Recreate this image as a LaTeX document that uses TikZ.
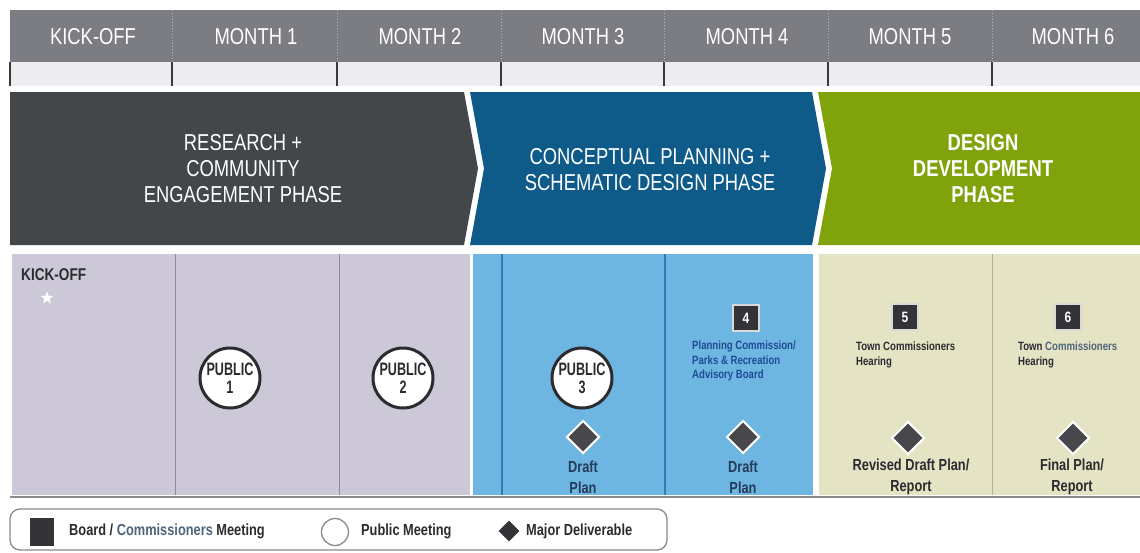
\documentclass[tikz,border=0pt]{standalone}
\usepackage{fontspec}
\setmainfont{Liberation Sans}
\newfontfamily\cond[FakeStretch=0.8]{Liberation Sans}
\newfontfamily\condn[FakeStretch=0.7]{Liberation Sans}
\usetikzlibrary{shapes.geometric}

\definecolor{barGray}{HTML}{7C7D82}
\definecolor{barLine}{HTML}{B4B4BA}
\definecolor{tickStrip}{HTML}{EDEDF1}
\definecolor{tickDark}{HTML}{3A3A3E}
\definecolor{phaseDark}{HTML}{434749}
\definecolor{phaseBlue}{HTML}{0E5A89}
\definecolor{phaseGreen}{HTML}{80A30B}
\definecolor{lavPanel}{HTML}{CCC8D8}
\definecolor{lavLine}{HTML}{8E8A9A}
\definecolor{skyPanel}{HTML}{6DB6E1}
\definecolor{skyLine}{HTML}{2A80B6}
\definecolor{beigePanel}{HTML}{E4E3C4}
\definecolor{beigeLine}{HTML}{B3B196}
\definecolor{inkDark}{HTML}{2B2B30}
\definecolor{inkNavy}{HTML}{263B5A}
\definecolor{inkBlue}{HTML}{1D4C94}
\definecolor{inkTeal}{HTML}{4E6478}
\definecolor{markDark}{HTML}{333338}
\definecolor{frameGray}{HTML}{8A8A8E}

\begin{document}
\begin{tikzpicture}[x=1pt,y=-1pt,
  month/.style={text=white,font=\cond\fontsize{23}{26}\selectfont},
  phasetext/.style={text=white,align=center,font=\cond\fontsize{23}{26}\selectfont},
  phasebold/.style={phasetext,font=\cond\bfseries\fontsize{23}{26}\selectfont},
  pubcircle/.style={circle,draw=inkDark,line width=3pt,fill=white,minimum size=60,
    inner sep=0,align=center,text=inkDark,font=\condn\bfseries\fontsize{18}{18}\selectfont},
  boardbox/.style={rectangle,fill=markDark,draw=white!85!black,line width=1.5pt,
    minimum size=26,inner sep=0,text=white,font=\cond\bfseries\fontsize{15}{16}\selectfont},
  deliv/.style={diamond,fill=markDark!90!white,draw=white,line width=2pt,
    minimum size=33,inner sep=0},
  smalllabel/.style={anchor=north west,align=left,inner sep=0,
    font=\cond\bfseries\fontsize{12}{14.5}\selectfont},
  delivlabel/.style={align=center,inner sep=0,font=\cond\bfseries\fontsize{16}{21}\selectfont},
  legtext/.style={anchor=west,inner sep=0,text=inkDark,font=\cond\bfseries\fontsize{16}{18}\selectfont}
]
\useasboundingbox (0,0) rectangle (1140,552);
\fill[white] (0,0) rectangle (1140,552);

% ---- month header ----
\fill[barGray] (10,10) rectangle (1140,62);
\foreach \x in {172,337,501,664,828,992}
  \draw[barLine,dotted,line width=1pt] (\x,10) -- (\x,62);
\fill[tickStrip] (10,62) rectangle (1140,86);
\foreach \x in {10,172,337,501,664,828,992}
  \draw[tickDark,line width=1.2pt] (\x,62) -- (\x,86);

\node[month] (m0) at (93,37) {KICK-OFF};
\node[month] (m1) at (256,37) {MONTH 1};
\node[month] (m2) at (420,37) {MONTH 2};
\node[month] (m3) at (583,37) {MONTH 3};
\node[month] (m4) at (747,37) {MONTH 4};
\node[month] (m5) at (910,37) {MONTH 5};
\node[month] (m6) at (1073,37) {MONTH 6};

% ---- phase chevrons ----
\fill[phaseDark] (10,92) -- (464,92) -- (478,168.5) -- (464,245) -- (10,245) -- cycle;
\fill[phaseBlue] (470,92) -- (812,92) -- (826,168.5) -- (812,245) -- (470,245) -- (484,168.5) -- cycle;
\fill[phaseGreen] (818,92) -- (1140,92) -- (1140,245) -- (818,245) -- (832,168.5) -- cycle;

\node[phasetext] (ph1) at (243,169) {RESEARCH +\\COMMUNITY\\ENGAGEMENT PHASE};
\node[phasetext] (ph2) at (650,170) {CONCEPTUAL PLANNING +\\SCHEMATIC DESIGN PHASE};
\node[phasebold] (ph3) at (983,169) {DESIGN\\DEVELOPMENT\\PHASE};

% ---- activity panels ----
\fill[lavPanel] (12,254) rectangle (470,495);
\fill[skyPanel] (473,254) rectangle (813,495);
\fill[beigePanel] (819,254) rectangle (1140,495);
\foreach \x in {175,339} \draw[lavLine,line width=1pt] (\x,254) -- (\x,495);
\foreach \x in {502,665} \draw[skyLine,line width=1.2pt] (\x,254) -- (\x,495);
\draw[beigeLine,line width=1pt] (992,254) -- (992,495);
\draw[frameGray,line width=1.2pt] (10,497) -- (1140,497);

% kick-off marker
\node[anchor=west,inner sep=0,text=inkDark,font=\cond\bfseries\fontsize{17}{18}\selectfont]
  (kick) at (21,275) {KICK-OFF};
\node[star,star points=5,star point ratio=2.3,fill=white,minimum size=13,inner sep=0]
  (kstar) at (47,298) {};

% public meetings
\node[pubcircle] (pub1) at (230,378) {PUBLIC\\1};
\node[pubcircle] (pub2) at (403,378) {PUBLIC\\2};
\node[pubcircle] (pub3) at (582,378) {PUBLIC\\3};

% board / commissioners meetings
\node[boardbox] (b4) at (746,318) {4};
\node[boardbox] (b5) at (905,317) {5};
\node[boardbox] (b6) at (1068,317) {6};
\node[smalllabel,text=inkBlue] (l4) at (692,341)
  {Planning Commission/\\Parks \& Recreation\\Advisory Board};
\node[smalllabel,text=inkDark] (l5) at (856,342) {Town Commissioners\\Hearing};
\node[smalllabel,text=inkDark] (l6) at (1018,342)
  {Town {\color{inkTeal}Commissioners}\\Hearing};

% major deliverables
\node[deliv] (d1) at (583,437) {};
\node[deliv] (d2) at (743,437) {};
\node[deliv] (d3) at (908,438) {};
\node[deliv] (d4) at (1073,438) {};
\node[delivlabel,text=inkNavy] (dl1) at (583,477) {Draft\\Plan};
\node[delivlabel,text=inkNavy] (dl2) at (743,477) {Draft\\Plan};
\node[delivlabel,text=inkDark] (dl3) at (911,477) {Revised Draft Plan/\\Report};
\node[delivlabel,text=inkDark] (dl4) at (1072,477) {Final Plan/\\Report};

% ---- legend ----
\draw[frameGray,line width=1.3pt,rounded corners=10pt] (10,509) rectangle (667,550);
\node[rectangle,fill=markDark,minimum width=24,minimum height=28,inner sep=0] (lsq) at (42,532) {};
\node[legtext] (lt1) at (69,531) {Board / {\color{inkTeal}Commissioners} Meeting};
\node[circle,draw=frameGray,line width=1.3pt,fill=white,minimum size=27,inner sep=0] (lci) at (335,532) {};
\node[legtext] (lt2) at (361,531) {Public Meeting};
\node[diamond,fill=markDark,minimum size=21,inner sep=0] (ldi) at (509,531) {};
\node[legtext] (lt3) at (526,531) {Major Deliverable};
\end{tikzpicture}
\end{document}
